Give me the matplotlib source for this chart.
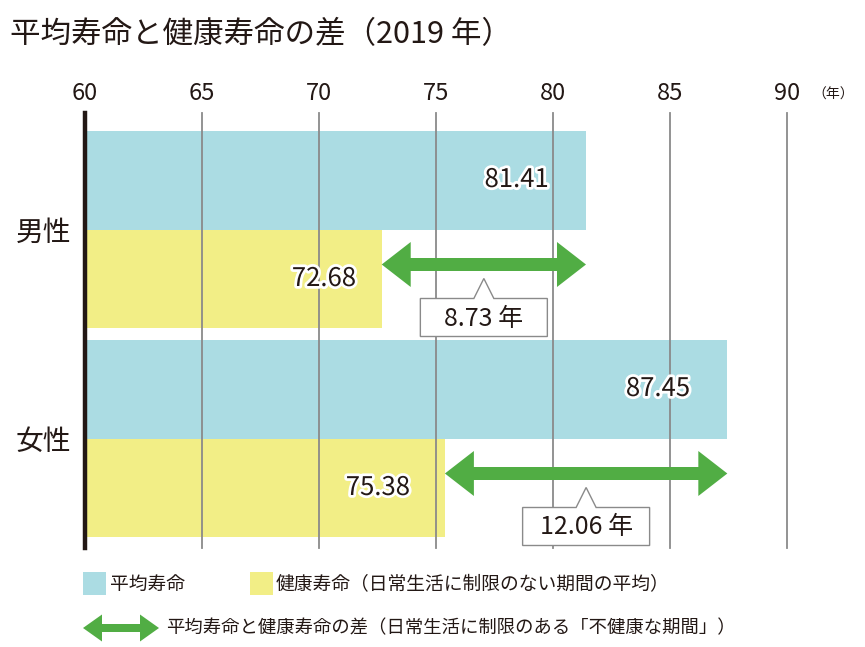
import matplotlib
matplotlib.use("Agg")
import matplotlib.pyplot as plt
from matplotlib.patches import Polygon, Rectangle
import matplotlib.patheffects as pe

plt.rcParams['font.family'] = ['Noto Sans CJK JP', 'DejaVu Sans']

# ---- data ----
categories = ["男性", "女性"]
life_expectancy = [81.41, 87.45]
healthy_life = [72.68, 75.38]
gap_labels = ["8.73 年", "12.06 年"]
xticks = [60, 65, 70, 75, 80, 85, 90]
title = "平均寿命と健康寿命の差（2019 年）"
legend_labels = ["平均寿命", "健康寿命（日常生活に制限のない期間の平均）",
                 "平均寿命と健康寿命の差（日常生活に制限のある「不健康な期間」）"]

# ---- style ----
C_BLUE = "#abdce3"
C_YEL = "#f2ee86"
C_GREEN = "#51ad44"
C_TXT = "#231815"
C_GRID = "#8a8a8a"

W, H = 865, 647
fig = plt.figure(figsize=(W / 100, H / 100), dpi=100)

# chart axes (y uses pixel-like layout units)
ax_left, ax_right, ax_top, ax_bot = 85, 787, 113, 548
ax = fig.add_axes([ax_left / W, 1 - ax_bot / H, (ax_right - ax_left) / W, (ax_bot - ax_top) / H])
ax.set_xlim(60, 90)
ax.set_ylim(ax_bot, ax_top)
for s in ax.spines.values():
    s.set_visible(False)

group_centers = [229.5, 438.5]
bar_h = 99
px_per_unit = (ax_right - ax_left) / 30.0

for i, gc in enumerate(group_centers):
    yb = gc - bar_h / 2
    yy = gc + bar_h / 2
    ax.barh(yb, life_expectancy[i] - 60, left=60, height=bar_h, color=C_BLUE, zorder=1)
    ax.barh(yy, healthy_life[i] - 60, left=60, height=bar_h - 1, color=C_YEL, zorder=1)
    stroke = [pe.withStroke(linewidth=4, foreground="white")]
    ax.text(life_expectancy[i] - 1.6, yb, f"{life_expectancy[i]:.2f}", ha="right", va="center",
            fontsize=18.5, color=C_TXT, zorder=10, path_effects=stroke)
    ax.text(healthy_life[i] - 1.1 if i == 0 else healthy_life[i] - 1.5, yy,
            f"{healthy_life[i]:.2f}", ha="right", va="center",
            fontsize=18.5, color=C_TXT, zorder=10, path_effects=stroke)

    # double arrow
    ya = gc + 35
    x0, x1 = healthy_life[i], life_expectancy[i]
    hl = 29 / px_per_unit
    sh, hh = 6.5, 22.5
    pts = [(x0, ya), (x0 + hl, ya - hh), (x0 + hl, ya - sh), (x1 - hl, ya - sh), (x1 - hl, ya - hh),
           (x1, ya), (x1 - hl, ya + hh), (x1 - hl, ya + sh), (x0 + hl, ya + sh), (x0 + hl, ya + hh)]
    ax.add_patch(Polygon(pts, closed=True, facecolor=C_GREEN, edgecolor="none", zorder=5))

    # callout box
    xm = (x0 + x1) / 2
    bw = 127 / px_per_unit
    tw = 10 / px_per_unit
    bt, bb, apex = gc + 69, gc + 107, gc + 49
    box = [(xm - bw / 2, bt), (xm - tw, bt), (xm, apex), (xm + tw, bt), (xm + bw / 2, bt),
           (xm + bw / 2, bb), (xm - bw / 2, bb)]
    ax.add_patch(Polygon(box, closed=True, facecolor="white", edgecolor=C_GRID, lw=1.0, zorder=6))
    ax.text(xm, (bt + bb) / 2 + 1, gap_labels[i], ha="center", va="center", fontsize=18,
            color=C_TXT, zorder=7)

# gridlines and left axis line
for xt in xticks[1:]:
    ax.axvline(xt, color=C_GRID, lw=1.3, zorder=3, clip_on=False)
ax.axvline(60, color=C_TXT, lw=3.2, zorder=4, clip_on=False)

ax.set_xticks(xticks)
ax.set_xticklabels([str(v) for v in xticks])
ax.tick_params(axis="x", top=True, labeltop=True, bottom=False, labelbottom=False,
               length=0, pad=6, labelsize=17, labelcolor=C_TXT)
ax.set_yticks(group_centers)
ax.set_yticklabels(categories)
ax.tick_params(axis="y", left=False, length=0, pad=10, labelsize=20, labelcolor=C_TXT)

# overlay axes for title / legend (pixel coordinates)
ov = fig.add_axes([0, 0, 1, 1], zorder=-1)
ov.set_xlim(0, W)
ov.set_ylim(H, 0)
ov.axis("off")
ov.text(10, 35, title, ha="left", va="center", fontsize=22, color=C_TXT)
ov.text(833, 95, "（年）", ha="center", va="center", fontsize=10, color=C_TXT)

ov.add_patch(Rectangle((83, 572), 23, 23, facecolor=C_BLUE, edgecolor="none"))
ov.text(110, 584, legend_labels[0], ha="left", va="center", fontsize=13.5, color=C_TXT)
ov.add_patch(Rectangle((250, 572), 23, 23, facecolor=C_YEL, edgecolor="none"))
ov.text(276, 584, legend_labels[1], ha="left", va="center", fontsize=13.5, color=C_TXT)

ly, lx0, lx1, lhl, lsh, lhh = 628, 83, 159, 19, 4, 13.5
lpts = [(lx0, ly), (lx0 + lhl, ly - lhh), (lx0 + lhl, ly - lsh), (lx1 - lhl, ly - lsh), (lx1 - lhl, ly - lhh),
        (lx1, ly), (lx1 - lhl, ly + lhh), (lx1 - lhl, ly + lsh), (lx0 + lhl, ly + lsh), (lx0 + lhl, ly + lhh)]
ov.add_patch(Polygon(lpts, closed=True, facecolor=C_GREEN, edgecolor="none"))
ov.text(166, 628, legend_labels[2], ha="left", va="center", fontsize=13.2, color=C_TXT)

fig.savefig("out.png", dpi=100)
